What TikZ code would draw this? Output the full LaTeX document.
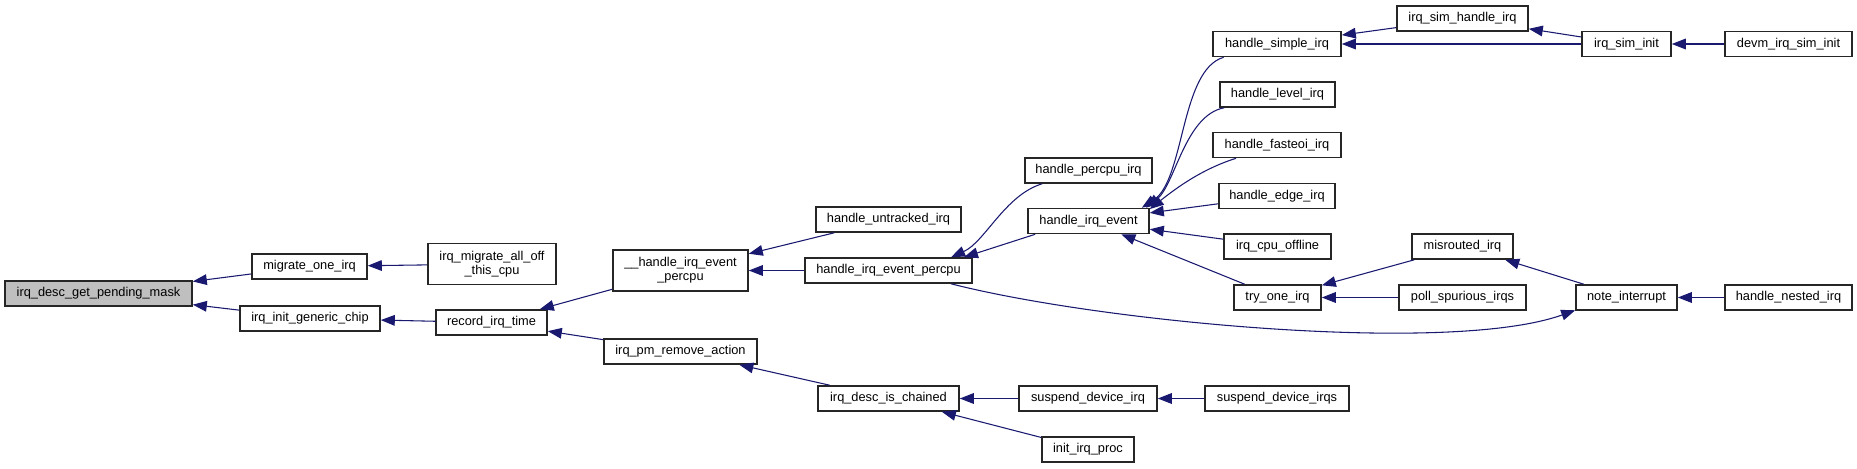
\documentclass[tikz,border=0pt]{standalone}
\usepackage{fontspec}
\setmainfont{Liberation Sans}
\usepackage{tikz}
\usetikzlibrary{arrows.meta}
\definecolor{midnight}{RGB}{25,25,112}
\definecolor{rootgray}{RGB}{191,191,191}

\begin{document}
\begin{tikzpicture}[
  x=0.75pt, y=-0.75pt,
  font=\fontsize{9.6}{10.5}\selectfont,
  fn/.style={rectangle, draw=black!85, line width=1.2pt, fill=white, inner sep=0pt,
             minimum height=18.75pt, align=center},
  wd/.style={minimum width=#1*0.75pt},
  tall/.style={minimum height=30.5pt},
  root/.style={fn, fill=rootgray},
  arrow/.style={{Triangle[length=10.5pt,width=8pt]}-, draw=midnight, line width=0.8pt}
]
\useasboundingbox (0,0) rectangle (1857,468);

% Rank 0-2
\node[root, wd=187] (pend) at (98.5,293.5) {irq\_desc\_get\_pending\_mask};
\node[fn, wd=115] (migone) at (309.5,266.5) {migrate\_one\_irq};
\node[fn, wd=140] (initchip) at (310,318.5) {irq\_init\_generic\_chip};
\node[fn, wd=128, tall] (migall) at (492,264) {irq\_migrate\_all\_off\\\_this\_cpu};
\node[fn, wd=111] (rectime) at (491.5,322.5) {record\_irq\_time};

% Rank 3-4
\node[fn, wd=135, tall] (hevpc) at (680.5,270.5) {\_\_handle\_irq\_event\\\_percpu};
\node[fn, wd=153] (pmrem) at (680.5,351.5) {irq\_pm\_remove\_action};
\node[fn, wd=145] (untracked) at (888.5,219.5) {handle\_untracked\_irq};
\node[fn, wd=167] (hiep) at (888.5,270.5) {handle\_irq\_event\_percpu};
\node[fn, wd=141] (chained) at (888.5,398.5) {irq\_desc\_is\_chained};

% Rank 5
\node[fn, wd=127] (percpu) at (1088.5,170.5) {handle\_percpu\_irq};
\node[fn, wd=121] (hie) at (1088.5,221) {handle\_irq\_event};
\node[fn, wd=138] (sdi) at (1088,398.5) {suspend\_device\_irq};
\node[fn, wd=92] (initproc) at (1088,449.5) {init\_irq\_proc};

% Rank 6
\node[fn, wd=128] (simple) at (1277,44) {handle\_simple\_irq};
\node[fn, wd=115] (level) at (1277.5,94.5) {handle\_level\_irq};
\node[fn, wd=128] (fasteoi) at (1277,145) {handle\_fasteoi\_irq};
\node[fn, wd=116] (edgeirq) at (1277,196) {handle\_edge\_irq};
\node[fn, wd=107] (offline) at (1277.5,246.5) {irq\_cpu\_offline};
\node[fn, wd=87] (tryone) at (1277.5,297.5) {try\_one\_irq};
\node[fn, wd=144] (sdis) at (1277,398.5) {suspend\_device\_irqs};

% Rank 7-9
\node[fn, wd=131] (simhandle) at (1462.5,18.5) {irq\_sim\_handle\_irq};
\node[fn, wd=101] (misrouted) at (1462.5,246.5) {misrouted\_irq};
\node[fn, wd=127] (poll) at (1462.5,297.5) {poll\_spurious\_irqs};
\node[fn, wd=89] (siminit) at (1626.5,44) {irq\_sim\_init};
\node[fn, wd=101] (note) at (1626.5,297.5) {note\_interrupt};
\node[fn, wd=127] (devm) at (1788.5,44) {devm\_irq\_sim\_init};
\node[fn, wd=127] (nested) at (1788.5,297.5) {handle\_nested\_irq};

% Calls (arrow head at the callee)
\draw[arrow] (pend) -- (migone);
\draw[arrow] (pend) -- (initchip);
\draw[arrow] (migone) -- (migall);
\draw[arrow] (initchip) -- (rectime);
\draw[arrow] (rectime) -- (hevpc);
\draw[arrow] (rectime) -- (pmrem);
\draw[arrow] (hevpc) -- (untracked);
\draw[arrow] (hevpc) -- (hiep);
\draw[arrow] (hiep.12) .. controls (985,242) and (1005,195) .. (percpu.196);
\draw[arrow] (hiep.10) -- (hie.194);
\draw[arrow] (hie.14) .. controls (1185,180) and (1180,70) .. (simple.194);
\draw[arrow] (hie.13) .. controls (1175,185) and (1185,115) .. (level.194);
\draw[arrow] (hie.11) .. controls (1180,185) and (1205,168) .. (fasteoi.198);
\draw[arrow] (hie) -- (edgeirq);
\draw[arrow] (hie) -- (offline);
\draw[arrow] (hie) -- (tryone);
\draw[arrow] (simple) -- (simhandle);
\draw[arrow] (simple) -- (siminit);
\draw[arrow] (simhandle) -- (siminit);
\draw[arrow] (siminit) -- (devm);
\draw[arrow] (tryone) -- (misrouted);
\draw[arrow] (tryone) -- (poll);
\draw[arrow] (misrouted) -- (note);
\draw[arrow] (note.194) .. controls (1450,355) and (1100,322) .. (hiep.348);
\draw[arrow] (note) -- (nested);
\draw[arrow] (pmrem) -- (chained);
\draw[arrow] (chained) -- (sdi);
\draw[arrow] (chained.346) -- (initproc);
\draw[arrow] (sdi) -- (sdis);

\end{tikzpicture}
\end{document}
